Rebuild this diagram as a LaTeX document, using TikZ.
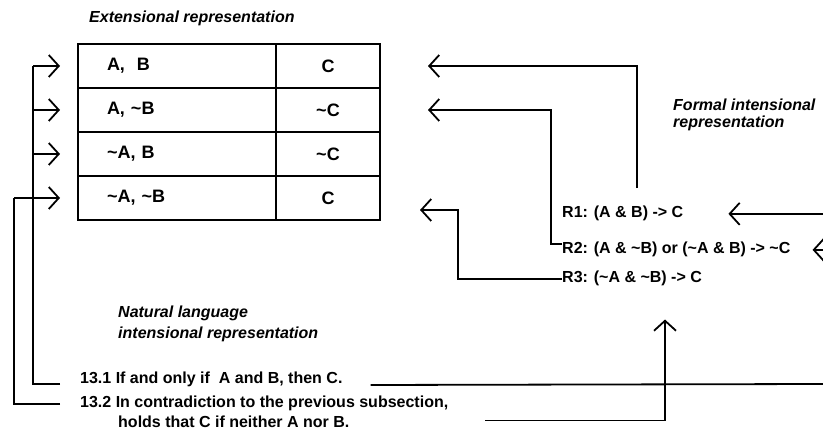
\documentclass[tikz,border=0pt]{standalone}
\usepackage{fontspec}
\setmainfont{Liberation Sans}
\usetikzlibrary{arrows.meta,positioning}
\newcommand{\nt}{\textasciitilde}

\tikzset{
  cell/.style={draw, line width=2pt, minimum height=44pt, inner sep=0pt, outer sep=0pt,
    font=\fontsize{18pt}{20pt}\selectfont\bfseries},
  lcell/.style={cell, text width=140pt, inner xsep=29pt, align=left},
  rcell/.style={cell, minimum width=104pt},
  rule/.style={inner sep=0pt, anchor=base west},
  lab/.style={inner sep=0pt, align=left, font=\fontsize{16pt}{17pt}\selectfont\bfseries\itshape},
  wire/.style={line width=1.8pt},
}

\begin{document}
\begin{tikzpicture}[x=1pt, y=-1pt, font=\fontsize{16pt}{18pt}\selectfont\bfseries,
    >={Straight Barb[length=10pt,width=22pt]}]
  \useasboundingbox (0,0) rectangle (823,446);

  % extensional table
  \node[lcell, anchor=north west] at (78,44) (r1) {A, \ B};
  \node[lcell, below=0pt of r1] (r2) {A, \nt B};
  \node[lcell, below=0pt of r2] (r3) {\nt A, B};
  \node[lcell, below=0pt of r3] (r4) {\nt A, \nt B};
  \node[rcell, right=0pt of r1] (c1) {C};
  \node[rcell, right=0pt of r2] (c2) {\nt C};
  \node[rcell, right=0pt of r3] (c3) {\nt C};
  \node[rcell, right=0pt of r4] (c4) {C};

  % labels
  \node[lab, anchor=base west] at (89,22.5) (ext) {Extensional representation};
  \node[lab, anchor=north west] at (673,99) (formal) {Formal intensional\\representation};
  \node[lab, anchor=north west] at (118,306) (natural) {Natural language\\[4pt]intensional representation};

  % formal rules
  \node[rule] at (562,218) (R1) {R1: (A \& B) -> C};
  \node[rule] at (562,254) (R2) {R2: (A \& \nt B) or (\nt A \& B) -> \nt C};
  \node[rule] at (562,283) (R3) {R3: (\nt A \& \nt B) -> C};

  % natural language rules
  \node[rule] at (80,384) (s131) {13.1 If and only if \ A and B, then C.};
  \node[rule] at (80,408) (s132) {13.2 In contradiction to the previous subsection,};
  \node[rule] at (118,427.5) (s132b) {holds that C if neither A nor B.};

  \coordinate (busA) at (33,0);
  \coordinate (busB) at (14,0);
  \coordinate (rim) at (823,0);

  % natural language -> table
  \draw[wire] ([xshift=-20pt]s131.base west) -| (busA |- r1.west);
  \foreach \r in {r1,r2,r3}
    \draw[wire,->] (busA |- \r.west) -- ([xshift=-18pt]\r.west);
  \draw[wire] ([xshift=-20pt]s132.west) -| (busB |- r4.west);
  \draw[wire,->] (busB |- r4.west) -- ([xshift=-18pt]r4.west);

  % formal -> table
  \draw[wire,->] ([xshift=14pt,yshift=18pt]R1.north) |- ([xshift=48pt]c1.east);
  \draw[wire,->] ([yshift=6pt]R2.west) -- ++(-11,0) |- ([xshift=48pt]c2.east);
  \draw[wire,->] (R3.west) -- ++(-104,0) |- ([xshift=40pt,yshift=-12pt]c4.east);

  % from the right
  \draw[wire,->] (rim |- R1.east) -- ([xshift=45pt]R1.east);
  \draw[wire,->] (rim |- R2.east) -- ([xshift=22pt]R2.east);
  \draw[wire] ([xshift=28pt,yshift=-1pt]s131.base east) -- (rim |- s131.base);
  \draw[wire,->] ([xshift=37pt,yshift=-9pt]s132.south east) -| ([xshift=103pt,yshift=-33pt]R3.south west);
\end{tikzpicture}
\end{document}
